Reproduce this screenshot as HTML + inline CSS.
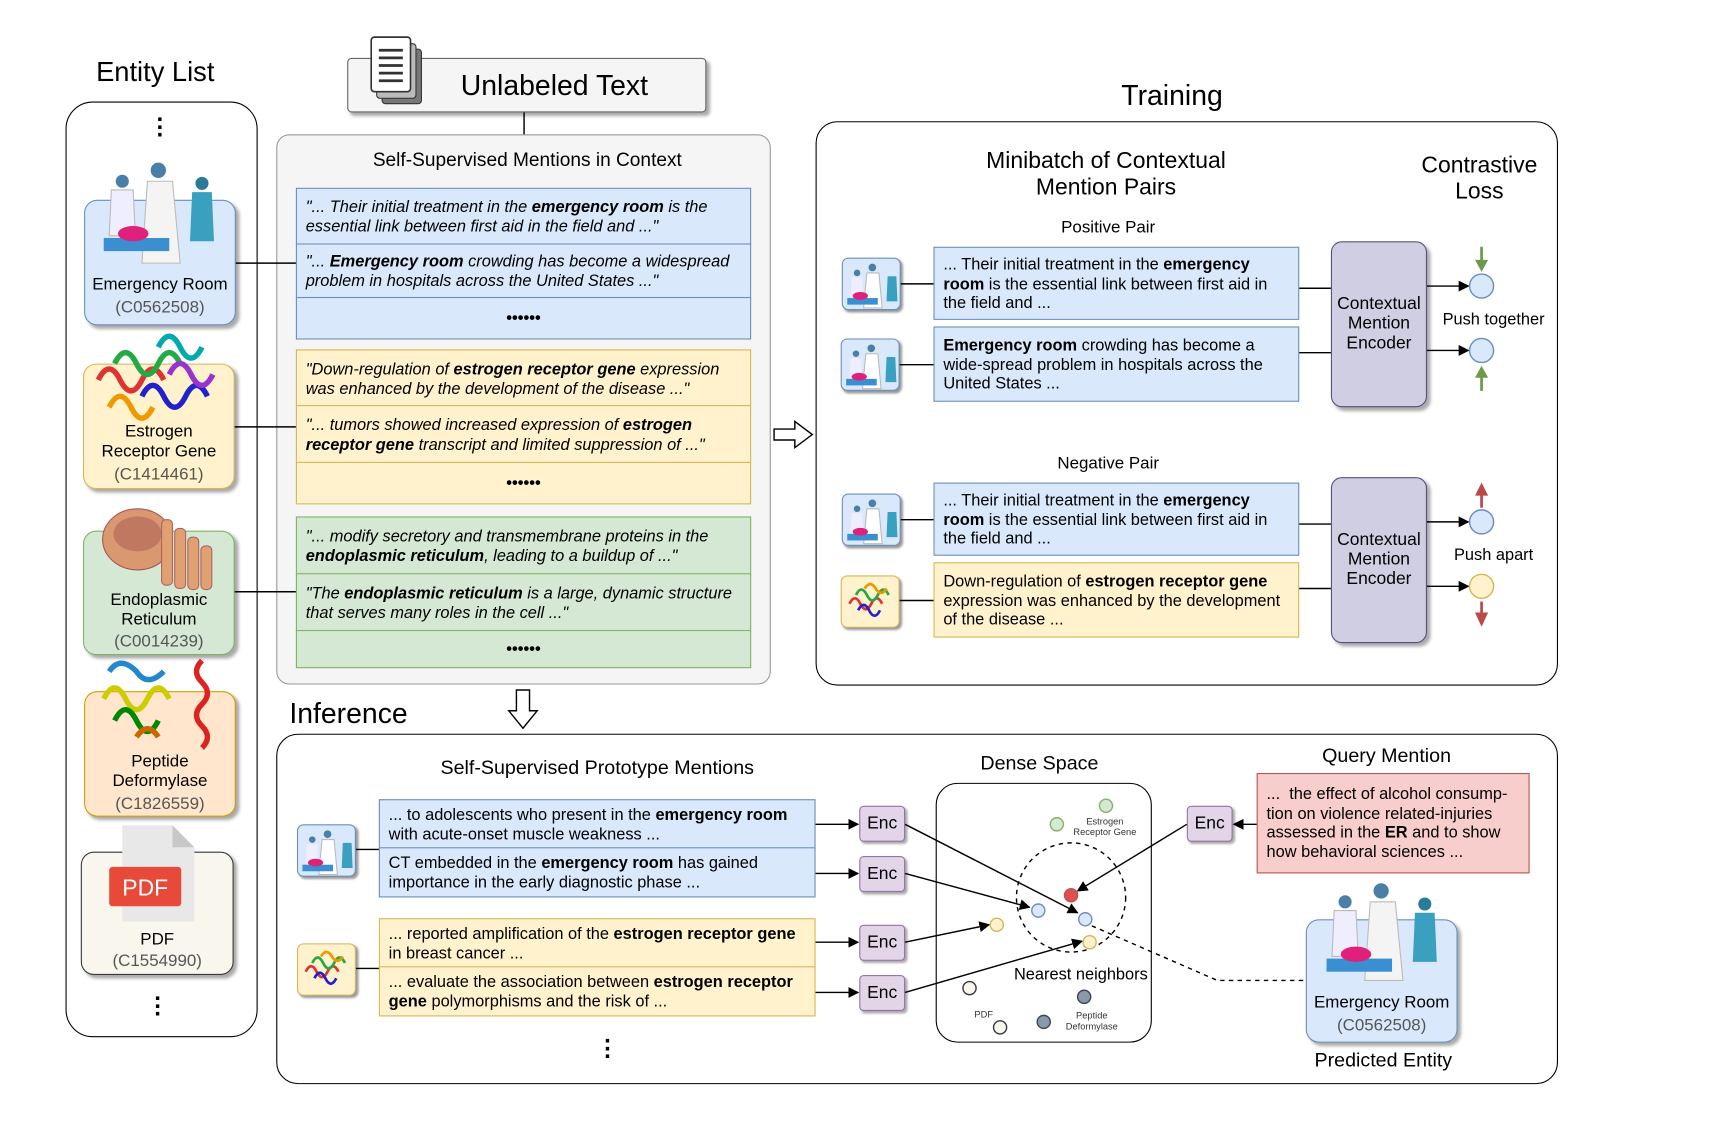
<!DOCTYPE html>
<html><head><meta charset="utf-8">
<style>
html,body{margin:0;padding:0;background:#fff;width:1710px;height:1122px;overflow:hidden}
#c{position:absolute;left:0;top:0;width:1566px;height:1028px;transform:scale(1.0918);transform-origin:0 0;font-family:"Liberation Sans",sans-serif;color:#000}
.a{position:absolute;box-sizing:border-box}
.t{position:absolute;white-space:nowrap;text-align:center}
.row{position:absolute;box-sizing:border-box;font-size:15px;line-height:17.5px;padding:0 8px;display:flex;align-items:center}
.bl{background:#dae8fc;border:1.5px solid #6c8ebf}
.yl{background:#fff2cc;border:1.5px solid #d6b656}
.gr{background:#d5e8d4;border:1.5px solid #82b366}
.card{position:absolute;box-sizing:border-box;border-radius:12px;box-shadow:3px 3px 3px #aaa;text-align:center;font-size:15.5px;line-height:18px}
.gray{color:#555}
.enc{position:absolute;box-sizing:border-box;background:#e1d5e7;border:1.5px solid #9673a6;border-radius:4px;width:42px;height:33px;font-size:16px;text-align:center;line-height:31px;box-shadow:2px 2px 2px #aaa}
.cme{position:absolute;box-sizing:border-box;background:#d0cee2;border:1.5px solid #56517e;border-radius:10px;width:88px;height:152px;display:flex;align-items:center;justify-content:center;text-align:center;font-size:16px;line-height:18px;box-shadow:3px 3px 3px #aaa}
.ic{position:absolute;width:54px;height:48px;border-radius:6px;box-sizing:border-box;box-shadow:2px 2px 2px #999;overflow:hidden}
.dots{position:absolute;font-size:22px;line-height:7px;font-weight:bold;text-align:center;width:20px}
</style></head><body><div id="c">

<div class="t" style="left:88px;top:52px;font-size:25px">Entity List</div>
<div class="a" style="left:60px;top:93px;width:176px;height:857px;border:1.5px solid #000;border-radius:25px"></div>
<div class="dots" style="left:137px;top:106px">·<br>·<br>·</div>
<div class="dots" style="left:135px;top:911px">·<br>·<br>·</div>

<div class="card bl" style="left:77px;top:183px;width:139px;height:115px"></div>
<div class="t" style="left:77px;top:252px;width:139px;font-size:15.5px">Emergency Room</div>
<div class="t gray" style="left:77px;top:273px;width:139px;font-size:15.5px">(C0562508)</div>
<svg class="a" style="left:90px;top:146px" width="115" height="105"><circle cx="55" cy="10" r="7" fill="#4a7fa8"/><path d="M45 20 L68 20 L75 95 L40 95Z" fill="#f4f4f4" stroke="#bbb"/><circle cx="22" cy="20" r="6" fill="#4a7fa8"/><path d="M12 28 L32 28 L34 70 L10 70Z" fill="#eef" stroke="#bbb"/><rect x="5" y="72" width="60" height="12" fill="#3a8fd0"/><ellipse cx="32" cy="68" rx="14" ry="7" fill="#e0207a"/><circle cx="95" cy="22" r="6" fill="#2a7a9a"/><path d="M86 30 L104 30 L106 75 L84 75Z" fill="#3aa0c0"/></svg>

<div class="card yl" style="left:76px;top:333px;width:139px;height:115px"></div>
<svg class="a" style="left:85px;top:303px" width="120" height="85"><g fill="none" stroke-width="5"><path d="M5 45 q10 -20 20 0 q10 20 20 0 q10-20 20 0" stroke="#d33"/><path d="M20 30 q10 -20 20 0 q10 20 20 0 q10-20 20 0" stroke="#2a4"/><path d="M45 60 q10 -20 20 0 q10 20 20 0 q10-20 20 0" stroke="#22c"/><path d="M60 15 q10 -20 20 0 q10 20 20 0" stroke="#0aa"/><path d="M15 70 q10 -20 20 0 q10 20 20 0" stroke="#e90"/><path d="M70 40 q10 -20 20 0 q10 20 20 0" stroke="#93c"/></g></svg>
<div class="t" style="left:76px;top:387px;width:139px;font-size:15.5px;line-height:18px">Estrogen<br>Receptor Gene</div>
<div class="t gray" style="left:76px;top:426px;width:139px;font-size:15.5px">(C1414461)</div>

<div class="card gr" style="left:76px;top:486px;width:139px;height:114px"></div>
<svg class="a" style="left:88px;top:456px" width="120" height="90"><ellipse cx="38" cy="38" rx="32" ry="28" fill="#d99870" stroke="#a55"/><ellipse cx="38" cy="33" rx="22" ry="16" fill="#c07860"/><g fill="#e0a070" stroke="#a66"><rect x="60" y="20" width="10" height="60" rx="4"/><rect x="72" y="28" width="10" height="55" rx="4"/><rect x="84" y="36" width="10" height="48" rx="4"/><rect x="96" y="44" width="10" height="40" rx="4"/></g></svg>
<div class="t" style="left:76px;top:541px;width:139px;font-size:15.5px;line-height:18px">Endoplasmic<br>Reticulum</div>
<div class="t gray" style="left:76px;top:579px;width:139px;font-size:15.5px">(C0014239)</div>

<div class="card" style="left:77px;top:633px;width:139px;height:115px;background:#ffe6cc;border:1.5px solid #d79b00"></div>
<svg class="a" style="left:85px;top:600px" width="125" height="95"><g fill="none" stroke-width="5"><path d="M100 5 q-10 10 0 20 q10 10 0 20 q-10 10 0 20 q10 10 0 20" stroke="#d22"/><path d="M10 40 q10 -20 20 0 q10 20 20 0 q10-20 20 0" stroke="#cc0"/><path d="M20 60 q10 -20 20 0 q10 20 20 0" stroke="#080"/><path d="M15 15 q10 -15 25 0 q10 15 25 0" stroke="#28c"/><path d="M40 75 q10 -15 20 0" stroke="#c60"/></g></svg>
<div class="t" style="left:77px;top:689px;width:139px;font-size:15.5px;line-height:18px">Peptide<br>Deformylase</div>
<div class="t gray" style="left:77px;top:728px;width:139px;font-size:15.5px">(C1826559)</div>

<div class="card" style="left:74px;top:780px;width:140px;height:113px;background:#f9f7ed;border:1.5px solid #36393d"></div>
<svg class="a" style="left:98px;top:754px" width="84" height="92"><path d="M14 2 L60 2 L80 22 L80 90 L14 90Z" fill="#e8e8e8"/><path d="M60 2 L60 22 L80 22Z" fill="#c8c8c8"/><rect x="2" y="40" width="66" height="36" rx="3" fill="#e84a3a"/><text x="35" y="66" text-anchor="middle" fill="#fff" font-size="21" font-family="Liberation Sans">PDF</text></svg>
<div class="t" style="left:74px;top:852px;width:140px;font-size:15.5px">PDF</div>
<div class="t gray" style="left:74px;top:872px;width:140px;font-size:15.5px">(C1554990)</div>

<div class="a" style="left:318px;top:53px;width:329px;height:50px;background:#f5f5f5;border:1.5px solid #666;border-radius:4px;box-shadow:3px 3px 3px #aaa"></div>
<svg class="a" style="left:336px;top:31px" width="56" height="68"><rect x="14" y="14" width="36" height="50" rx="3" fill="#777" stroke="#333"/><rect x="9" y="9" width="36" height="50" rx="3" fill="#bbb" stroke="#333"/><rect x="4" y="3" width="36" height="50" rx="3" fill="#fff" stroke="#333" stroke-width="1.5"/><g stroke="#333" stroke-width="2.5"><line x1="11" y1="15" x2="33" y2="15"/><line x1="11" y1="22" x2="33" y2="22"/><line x1="11" y1="29" x2="33" y2="29"/><line x1="11" y1="36" x2="33" y2="36"/><line x1="11" y1="43" x2="33" y2="43"/></g></svg>
<div class="t" style="left:422px;top:63px;font-size:26px">Unlabeled Text</div>

<div class="a" style="left:253px;top:123px;width:453px;height:504px;background:#f5f5f5;border:1.5px solid #999;border-radius:12px"></div>
<div class="t" style="left:253px;top:136px;width:460px;font-size:17.5px">Self-Supervised Mentions in Context</div>
<div class="row bl" style="left:271px;top:222px;width:417px;height:52px;font-style:italic;display:block;padding-top:8px">"... <b>Emergency room</b> crowding has become a widespread problem in hospitals across the United States ..."</div>
<div class="row bl" style="left:271px;top:272px;width:417px;height:39px;justify-content:center;font-weight:bold">••••••</div>
<div class="row yl" style="left:271px;top:320px;width:417px;height:53px;font-style:italic;display:block;padding-top:9px">"Down-regulation of <b>estrogen receptor gene</b> expression was enhanced by the development of the disease ..."</div>
<div class="row yl" style="left:271px;top:371px;width:417px;height:54px;font-style:italic;display:block;padding-top:9px">"... tumors showed increased expression of <b>estrogen receptor gene</b> transcript and limited suppression of ..."</div>
<div class="row yl" style="left:271px;top:423px;width:417px;height:39px;justify-content:center;font-weight:bold">••••••</div>
<div class="row gr" style="left:271px;top:473px;width:417px;height:54px;font-style:italic;display:block;padding-top:9px">"... modify secretory and transmembrane proteins in the <b>endoplasmic reticulum</b>, leading to a buildup of ..."</div>
<div class="row gr" style="left:271px;top:525px;width:417px;height:54px;font-style:italic;display:block;padding-top:9px">"The <b>endoplasmic reticulum</b> is a large, dynamic structure that serves many roles in the cell ..."</div>
<div class="row gr" style="left:271px;top:577px;width:417px;height:35px;justify-content:center;font-weight:bold">••••••</div>
<div class="row bl" style="left:271px;top:172px;width:417px;height:52px;font-style:italic;display:block;padding-top:8px">"... Their initial treatment in the <b>emergency room</b> is the essential link between first aid in the field and ..."</div>

<div class="t" style="left:1027px;top:72px;font-size:26px">Training</div>
<div class="a" style="left:747px;top:111px;width:680px;height:517px;border:1.5px solid #000;border-radius:20px"></div>
<div class="t" style="left:880px;top:136px;width:266px;font-size:21px;line-height:24px">Minibatch of Contextual<br>Mention Pairs</div>
<div class="t" style="left:1290px;top:140px;width:130px;font-size:21px;line-height:24px">Contrastive<br>Loss</div>
<div class="t" style="left:915px;top:200px;width:200px;font-size:15.5px">Positive Pair</div>
<div class="t" style="left:915px;top:416px;width:200px;font-size:15.5px">Negative Pair</div>

<div class="row bl" style="left:855px;top:226px;width:335px;height:67px;display:block;padding-top:7px">... Their initial treatment in the <b>emergency room</b> is the essential link between first aid in the field and ...</div>
<div class="row bl" style="left:855px;top:299px;width:335px;height:69px;display:block;padding-top:8px"><b>Emergency room</b> crowding has become a wide-spread problem in hospitals across the United States ...</div>
<div class="row bl" style="left:855px;top:442px;width:335px;height:67px;display:block;padding-top:7px">... Their initial treatment in the <b>emergency room</b> is the essential link between first aid in the field and ...</div>
<div class="row yl" style="left:855px;top:515px;width:335px;height:69px;display:block;padding-top:8px">Down-regulation of <b>estrogen receptor gene</b> expression was enhanced by the development of the disease ...</div>
<div class="cme" style="left:1219px;top:221px">Contextual<br>Mention<br>Encoder</div>
<div class="cme" style="left:1219px;top:437px">Contextual<br>Mention<br>Encoder</div>
<div class="t" style="left:1318px;top:284px;width:100px;font-size:15px">Push together</div>
<div class="t" style="left:1318px;top:500px;width:100px;font-size:15px">Push apart</div>

<div class="ic bl" style="left:771px;top:236px"></div>
<div class="ic bl" style="left:770px;top:310px"></div>
<div class="ic bl" style="left:771px;top:452px"></div>
<div class="ic yl" style="left:770px;top:527px"></div>
<div class="ic bl" style="left:272px;top:755px"></div>
<div class="ic yl" style="left:272px;top:864px"></div>

<div class="t" style="left:265px;top:638px;font-size:26px">Inference</div>
<div class="a" style="left:253px;top:672px;width:1174px;height:321px;border:1.5px solid #000;border-radius:20px"></div>
<div class="t" style="left:380px;top:693px;width:334px;font-size:18px">Self-Supervised Prototype Mentions</div>
<div class="row bl" style="left:347px;top:732px;width:400px;height:46px;display:block;padding-top:5px">... to adolescents who present in the <b>emergency room</b> with acute-onset muscle weakness ...</div>
<div class="row bl" style="left:347px;top:776px;width:400px;height:46px;display:block;padding-top:5px">CT embedded in the <b>emergency room</b> has gained importance in the early diagnostic phase ...</div>
<div class="row yl" style="left:347px;top:841px;width:400px;height:46px;display:block;padding-top:5px">... reported amplification of the <b>estrogen receptor gene</b> in breast cancer ...</div>
<div class="row yl" style="left:347px;top:885px;width:400px;height:46px;display:block;padding-top:5px">... evaluate the association between <b>estrogen receptor gene</b> polymorphisms and the risk of ...</div>
<div class="enc" style="left:787px;top:738px">Enc</div>
<div class="enc" style="left:787px;top:784px">Enc</div>
<div class="enc" style="left:787px;top:847px">Enc</div>
<div class="enc" style="left:787px;top:893px">Enc</div>
<div class="enc" style="left:1087px;top:738px">Enc</div>
<div class="dots" style="left:547px;top:950px">·<br>·<br>·</div>

<div class="t" style="left:880px;top:689px;width:144px;font-size:18px">Dense Space</div>
<div class="a" style="left:857px;top:717px;width:198px;height:238px;border:1.5px solid #000;border-radius:20px"></div>
<div class="t" style="left:980px;top:747px;width:64px;font-size:8.5px;line-height:10px;color:#333">Estrogen<br>Receptor Gene</div>
<div class="t" style="left:970px;top:925px;width:60px;font-size:8.5px;line-height:10px;color:#333">Peptide<br>Deformylase</div>
<div class="t" style="left:886px;top:924px;width:30px;font-size:8.5px;color:#333">PDF</div>
<div class="t" style="left:920px;top:884px;width:140px;font-size:15px">Nearest neighbors</div>

<div class="t" style="left:1180px;top:682px;width:180px;font-size:18px">Query Mention</div>
<div class="row" style="left:1151px;top:708px;width:250px;height:92px;display:block;padding-top:10px;background:#f8cecc;border:1.5px solid #b85450">...&nbsp; the effect of alcohol consump-tion on violence related-injuries assessed in the <b>ER</b> and to show how behavioral sciences ...</div>

<div class="card bl" style="left:1196px;top:842px;width:139px;height:113px"></div>
<svg class="a" style="left:1210px;top:806px" width="115" height="100"><circle cx="55" cy="10" r="7" fill="#4a7fa8"/><path d="M45 20 L68 20 L75 92 L40 92Z" fill="#f4f4f4" stroke="#bbb"/><circle cx="22" cy="20" r="6" fill="#4a7fa8"/><path d="M12 28 L32 28 L34 70 L10 70Z" fill="#eef" stroke="#bbb"/><rect x="5" y="72" width="60" height="12" fill="#3a8fd0"/><ellipse cx="32" cy="68" rx="14" ry="7" fill="#e0207a"/><circle cx="95" cy="22" r="6" fill="#2a7a9a"/><path d="M86 30 L104 30 L106 75 L84 75Z" fill="#3aa0c0"/></svg>
<div class="t" style="left:1196px;top:910px;width:139px;font-size:15.5px">Emergency Room</div>
<div class="t gray" style="left:1196px;top:931px;width:139px;font-size:15.5px">(C0562508)</div>
<div class="t" style="left:1177px;top:961px;width:180px;font-size:18px">Predicted Entity</div>

<svg class="a" style="left:0;top:0" width="1566" height="1028">
<defs><marker id="ar" markerWidth="10" markerHeight="10" refX="9" refY="5" orient="auto" markerUnits="userSpaceOnUse"><path d="M0 0 L10 5 L0 10Z" fill="#000"/></marker></defs>
<g stroke="#000" stroke-width="1.3" fill="none">
<line x1="480" y1="103" x2="480" y2="123"/>
<line x1="216" y1="241" x2="271" y2="241"/>
<line x1="215" y1="391" x2="271" y2="391"/>
<line x1="215" y1="542" x2="271" y2="542"/>
<line x1="825" y1="260" x2="855" y2="260"/><line x1="824" y1="334" x2="855" y2="334"/>
<line x1="825" y1="476" x2="855" y2="476"/><line x1="824" y1="550" x2="855" y2="550"/>
<line x1="1190" y1="264" x2="1219" y2="264"/><line x1="1190" y1="323" x2="1219" y2="323"/>
<line x1="1190" y1="480" x2="1219" y2="480"/><line x1="1190" y1="539" x2="1219" y2="539"/>
<line x1="1307" y1="262" x2="1345" y2="262" marker-end="url(#ar)"/>
<line x1="1307" y1="321" x2="1345" y2="321" marker-end="url(#ar)"/>
<line x1="1307" y1="478" x2="1345" y2="478" marker-end="url(#ar)"/>
<line x1="1307" y1="537" x2="1345" y2="537" marker-end="url(#ar)"/>
<line x1="326" y1="778" x2="347" y2="778"/><line x1="326" y1="887" x2="347" y2="887"/>
<line x1="747" y1="755" x2="786" y2="755" marker-end="url(#ar)"/>
<line x1="747" y1="800" x2="786" y2="800" marker-end="url(#ar)"/>
<line x1="747" y1="863" x2="786" y2="863" marker-end="url(#ar)"/>
<line x1="747" y1="909" x2="786" y2="909" marker-end="url(#ar)"/>
<line x1="1151" y1="755" x2="1130" y2="755" marker-end="url(#ar)"/>
<line x1="829" y1="755" x2="987" y2="836" marker-end="url(#ar)"/>
<line x1="829" y1="800" x2="943" y2="831" marker-end="url(#ar)"/>
<line x1="829" y1="863" x2="906" y2="847" marker-end="url(#ar)"/>
<line x1="829" y1="909" x2="991" y2="862" marker-end="url(#ar)"/>
<line x1="1087" y1="755" x2="987" y2="816" marker-end="url(#ar)"/>
<polyline points="1000,848 1115,898 1196,898" stroke-dasharray="4,4"/>
<circle cx="981" cy="822" r="50" stroke-dasharray="4,4"/>
</g>
<path d="M709 393 L728 393 L728 386 L744 398 L728 410 L728 403 L709 403Z" fill="#fff" stroke="#000" stroke-width="1.3"/>
<path d="M473 632 L473 651 L466 651 L479 667 L492 651 L485 651 L485 632Z" fill="#fff" stroke="#000" stroke-width="1.3"/>
<g stroke-width="1.3"><circle cx="1357" cy="262" r="11" fill="#dae8fc" stroke="#6c8ebf"/><circle cx="1357" cy="321" r="11" fill="#dae8fc" stroke="#6c8ebf"/><circle cx="1357" cy="478" r="11" fill="#dae8fc" stroke="#6c8ebf"/><circle cx="1357" cy="537" r="11" fill="#fff2cc" stroke="#d6b656"/></g>
<g stroke-width="2.5"><line x1="1357" y1="226" x2="1357" y2="240" stroke="#6a9a4a"/><path d="M1351 238 L1363 238 L1357 249Z" fill="#6a9a4a"/>
<line x1="1357" y1="358" x2="1357" y2="344" stroke="#6a9a4a"/><path d="M1351 346 L1363 346 L1357 335Z" fill="#6a9a4a"/>
<line x1="1357" y1="465" x2="1357" y2="452" stroke="#b84a4a"/><path d="M1351 454 L1363 454 L1357 442Z" fill="#b84a4a"/>
<line x1="1357" y1="551" x2="1357" y2="563" stroke="#b84a4a"/><path d="M1351 561 L1363 561 L1357 574Z" fill="#b84a4a"/></g>
<g stroke-width="1.3"><circle cx="1013" cy="738" r="6" fill="#d5e8d4" stroke="#82b366"/><circle cx="968" cy="755" r="6" fill="#d5e8d4" stroke="#82b366"/>
<circle cx="981" cy="820" r="6" fill="#e05050" stroke="#b85450"/>
<circle cx="951" cy="834" r="6" fill="#dae8fc" stroke="#6c8ebf"/><circle cx="994" cy="842" r="6" fill="#dae8fc" stroke="#6c8ebf"/>
<circle cx="913" cy="847" r="6" fill="#fff2cc" stroke="#d6b656"/><circle cx="998" cy="863" r="6" fill="#fff2cc" stroke="#d6b656"/>
<circle cx="888" cy="905" r="6" fill="#f9f7ed" stroke="#36393d"/><circle cx="916" cy="941" r="6" fill="#f9f7ed" stroke="#36393d"/>
<circle cx="993" cy="913" r="6" fill="#8899aa" stroke="#445"/><circle cx="956" cy="936" r="6" fill="#8899aa" stroke="#445"/></g>
</svg>
<svg class="a" style="left:0;top:0" width="1566" height="1028">
<defs><g id="p"><circle cx="26" cy="7" r="3.5" fill="#4a7fa8"/><path d="M21 12 L32 12 L35 44 L18 44Z" fill="#fff" stroke="#bbb"/><circle cx="12" cy="12" r="3" fill="#4a7fa8"/><path d="M7 16 L17 16 L17 34 L6 34Z" fill="#eef"/><rect x="3" y="35" width="28" height="6" fill="#3a8fd0"/><ellipse cx="15" cy="33" rx="7" ry="3.5" fill="#e0207a"/><path d="M40 15 L48 15 L49 38 L39 38Z" fill="#3aa0c0"/></g>
<g id="g"><g fill="none" stroke-width="2.5"><path d="M6 26 q5 -10 10 0 q5 10 10 0 q5-10 10 0" stroke="#d33"/><path d="M12 18 q5 -10 10 0 q5 10 10 0 q5-10 10 0" stroke="#2a4"/><path d="M14 32 q5 -10 10 0 q5 10 10 0" stroke="#22c"/><path d="M20 12 q5-8 10 0 q5 8 10 0" stroke="#e90"/></g></g></defs>
<use href="#p" x="773" y="238"/><use href="#p" x="772" y="312"/><use href="#p" x="773" y="454"/><use href="#p" x="274" y="757"/>
<use href="#g" x="772" y="527"/><use href="#g" x="274" y="864"/>
</svg>
</div></body></html>
